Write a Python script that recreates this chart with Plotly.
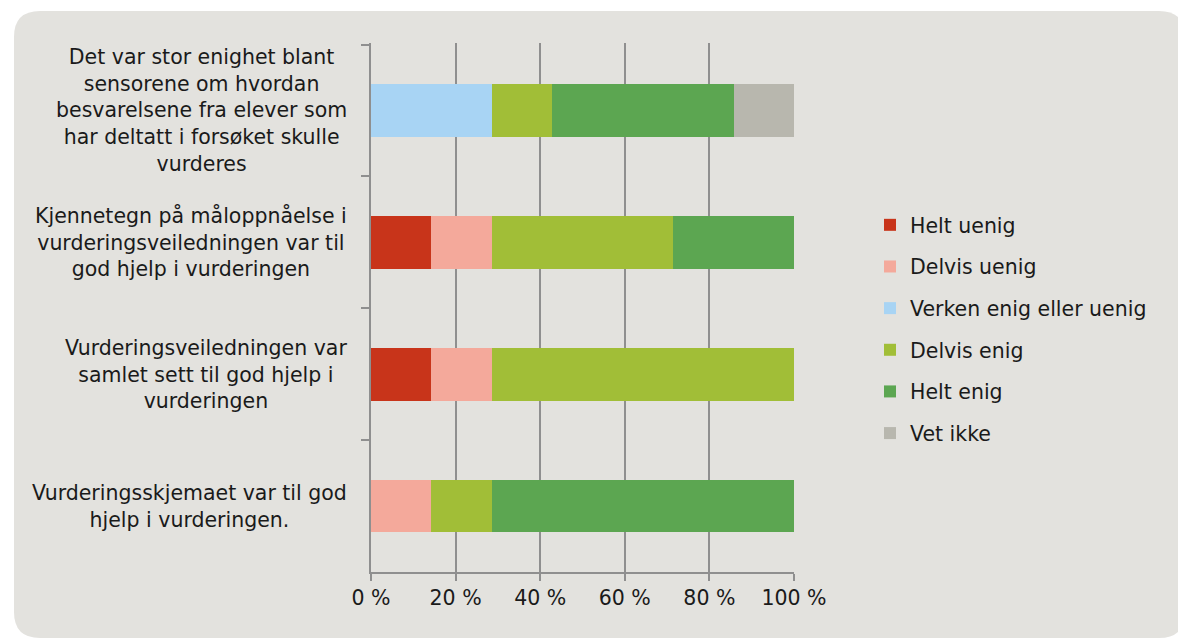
import plotly.graph_objects as go

categories = [
    "Det var stor enighet blant<br>sensorene om hvordan<br>besvarelsene fra elever som<br>har deltatt i forsøket skulle<br>vurderes",
    "Kjennetegn på måloppnåelse i<br>vurderingsveiledningen var til<br>god hjelp i vurderingen",
    "Vurderingsveiledningen var<br>samlet sett til god hjelp i<br>vurderingen",
    "Vurderingsskjemaet var til god<br>hjelp i vurderingen.",
]
series_names = ["Helt uenig", "Delvis uenig", "Verken enig eller uenig", "Delvis enig", "Helt enig", "Vet ikke"]
helt_uenig = [0, 14.3, 14.3, 0]
delvis_uenig = [0, 14.3, 14.3, 14.3]
verken = [28.6, 0, 0, 0]
delvis_enig = [14.3, 42.9, 71.4, 14.3]
helt_enig = [42.8, 28.5, 0, 71.4]
vet_ikke = [14.3, 0, 0, 0]
series_values = [helt_uenig, delvis_uenig, verken, delvis_enig, helt_enig, vet_ikke]
colors = ["#c8341a", "#f4a99b", "#a8d4f4", "#a1be37", "#5ca651", "#b8b7ae"]
x_ticks = [0, 20, 40, 60, 80, 100]
x_tick_labels = ["0 %", "20 %", "40 %", "60 %", "80 %", "100 %"]

FONT = "DejaVu Sans"
FS = 20.5
OFF = 8  # page body margin offset
W, H = 1186 - OFF, 639 - OFF
# target pixel positions in the window
PL, PR, PT, PB = 371, 794, 43, 572
L, T = PL - OFF, PT - OFF
R, B = W - (PR - OFF), H - (PB - OFF)
pw, ph = PR - PL, PB - PT

fig = go.Figure()
for name, vals, col in zip(series_names, series_values, colors):
    fig.add_trace(go.Bar(
        y=categories, x=vals, name=name, orientation="h",
        marker=dict(color=col, line=dict(width=0)),
        width=0.4, legendgroup=name, hoverinfo="x+name",
    ))

def px_x(p):
    return (p - PL) / pw

def px_y(p):
    return (PB - p) / ph

# rounded background box (window pixel coords)
x0, x1, y0, y1, r = 14, 1185, 11, 638, 26
rx, ry = r / pw, r / ph
X0, X1, Y0, Y1 = px_x(x0), px_x(x1), px_y(y0), px_y(y1)
path = (f"M {X0+rx},{Y0} L {X1-rx},{Y0} Q {X1},{Y0} {X1},{Y0-ry} "
        f"L {X1},{Y1+ry} Q {X1},{Y1} {X1-rx},{Y1} L {X0+rx},{Y1} "
        f"Q {X0},{Y1} {X0},{Y1+ry} L {X0},{Y0-ry} Q {X0},{Y0} {X0+rx},{Y0} Z")
fig.add_shape(type="path", path=path, xref="paper", yref="paper",
              fillcolor="#e3e2de", line=dict(width=0), layer="below")

for cat in categories:
    fig.add_annotation(x=px_x(349), y=cat, xref="paper", yref="y",
                       text=cat, showarrow=False, xanchor="right", align="center",
                       font=dict(family=FONT, size=FS, color="#1a1a1a"))

fig.update_layout(
    width=W, height=H,
    margin=dict(l=L, r=R, t=T, b=B),
    barmode="stack",
    paper_bgcolor="white", plot_bgcolor="white",
    font=dict(family=FONT, size=FS, color="#1a1a1a"),
    showlegend=True,
    legend=dict(x=px_x(870), y=px_y(329), xanchor="left", yanchor="middle",
                traceorder="grouped", tracegroupgap=12, bgcolor="rgba(0,0,0,0)",
                font=dict(family=FONT, size=FS, color="#1a1a1a")),
    xaxis=dict(range=[0, 100], tickvals=x_ticks, ticktext=x_tick_labels,
               showgrid=True, gridcolor="#8f8f8f", gridwidth=1.5,
               showline=True, linecolor="#8f8f8f", linewidth=1.5,
               ticks="outside", ticklen=7, tickcolor="#8f8f8f", tickwidth=1.5,
               zeroline=False, fixedrange=True),
    yaxis=dict(autorange="reversed", showticklabels=False, tickson="boundaries",
               showline=True, linecolor="#8f8f8f", linewidth=2,
               ticks="outside", ticklen=8, tickcolor="#8f8f8f", tickwidth=1.5,
               showgrid=False, zeroline=False, fixedrange=True),
)

fig.write_html("out.html")
